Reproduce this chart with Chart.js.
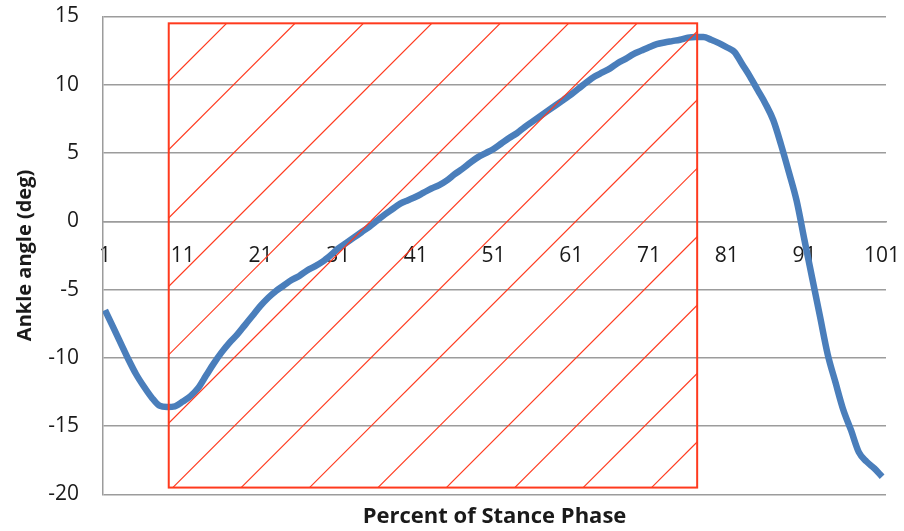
<!DOCTYPE html>
<html>
<head>
<meta charset="utf-8">
<script src="https://cdn.jsdelivr.net/npm/chart.js@4"></script>
<style>
  html, body { margin: 0; padding: 0; background: #fff; }
  #wrap { width: 904px; height: 531px; }
</style>
</head>
<body>
<div id="wrap"><canvas id="ankle"></canvas></div>
<script>
// percent of stance phase, 1..101
const stancePercent = Array.from({ length: 101 }, (_, i) => i + 1);

// ankle angle (deg)
const ankleAngle = [
	-6.5, -7.7, -8.9, -10.1, -11.2, -12.1, -12.9, -13.5, -13.6, -13.55,
	-13.2, -12.8, -12.2, -11.3, -10.4, -9.6, -8.9, -8.3, -7.6, -6.9,
	-6.2, -5.6, -5.1, -4.7, -4.3, -4.0, -3.6, -3.3, -2.95, -2.5,
	-2.0, -1.6, -1.2, -0.8, -0.4, 0.05, 0.5, 0.9, 1.3, 1.55,
	1.8, 2.1, 2.4, 2.65, 3.0, 3.45, 3.85, 4.3, 4.7, 5.0,
	5.3, 5.7, 6.1, 6.45, 6.9, 7.3, 7.7, 8.1, 8.5, 8.9,
	9.3, 9.75, 10.2, 10.6, 10.9, 11.2, 11.6, 11.9, 12.25, 12.5,
	12.75, 12.97, 13.1, 13.2, 13.3, 13.45, 13.5, 13.5, 13.3, 13.05,
	12.75, 12.4, 11.5, 10.6, 9.6, 8.6, 7.4, 5.6, 3.6, 1.5,
	-1.35, -4.15, -6.95, -9.75, -11.8, -13.8, -15.3, -16.9, -17.6, -18.1,
	-18.7
];

const xTickLabels = [1, 11, 21, 31, 41, 51, 61, 71, 81, 91, 101];
const yTickLabels = [-20, -15, -10, -5, 0, 5, 10, 15];

// hatched box: percent range and angle range
const shadeX = [9.2, 77.2];
const shadeY = [-19.5, 14.5];

const GRID = '#9c9c9c';
const RED = '#ff3a1e';
const TEXT = '#1a1a1a';

// red rectangle with diagonal hatch
const hatchBox = {
	id: 'hatchBox',
	afterDatasetsDraw(chart) {
		const { ctx, scales: { x, y } } = chart;
		const left = x.getPixelForValue(shadeX[0]);
		const right = x.getPixelForValue(shadeX[1]);
		const top = y.getPixelForValue(shadeY[1]);
		const bottom = y.getPixelForValue(shadeY[0]);
		const step = 68.4;

		ctx.save();
		ctx.beginPath();
		ctx.rect(left, top, right - left, bottom - top);
		ctx.clip();
		ctx.strokeStyle = RED;
		ctx.lineWidth = 1.2;
		const c0 = left + bottom + 4;
		for (let c = c0 - step * 20; c <= right + bottom; c += step) {
			if (c < left + top) continue;
			ctx.beginPath();
			ctx.moveTo(c - bottom, bottom);
			ctx.lineTo(c - top, top);
			ctx.stroke();
		}
		ctx.restore();

		ctx.save();
		ctx.strokeStyle = RED;
		ctx.lineWidth = 2;
		ctx.strokeRect(left, top, right - left, bottom - top);
		ctx.restore();
	}
};

const noPad = scale => {
	scale.paddingLeft = 0;
	scale.paddingRight = 0;
	scale.paddingTop = 0;
	scale.paddingBottom = 0;
};

const data_ankle = {
	datasets: [
		{
			label: 'Ankle angle',
			data: stancePercent.map((p, i) => ({ x: p, y: ankleAngle[i] })),
			borderColor: '#4a7ebb',
			borderWidth: 6.5,
			pointRadius: 0,
			cubicInterpolationMode: 'monotone',
			fill: false,
		}
	]
};

const config_ankle = {
	type: 'line',
	data: data_ankle,
	options: {
		responsive: true,
		maintainAspectRatio: false,
		animation: false,
		layout: {
			padding: { left: 0, right: 18, top: 16.5, bottom: 1.4 }
		},
		plugins: {
			legend: { display: false },
			tooltip: { enabled: false },
			title: {
				display: true,
				fullSize: false,
				position: 'bottom',
				text: 'Percent of Stance Phase',
				color: TEXT,
				font: { family: 'Open Sans', size: 22, weight: 'bold', lineHeight: 1.2 },
				padding: { top: 8.8, bottom: 0 }
			}
		},
		scales: {
			x: {
				type: 'linear',
				min: 0.74,
				max: 101.5,
				position: { y: 0 },
				afterBuildTicks: scale => {
					scale.ticks = xTickLabels.map(v => ({ value: v }));
				},
				afterFit: noPad,
				grid: { display: false, drawTicks: false },
				border: { display: true, color: GRID, width: 1.5 },
				ticks: {
					autoSkip: false,
					maxRotation: 0,
					padding: 22,
					color: TEXT,
					font: { family: 'Open Sans', size: 21 }
				}
			},
			y: {
				min: yTickLabels[0],
				max: yTickLabels[yTickLabels.length - 1],
				afterFit: scale => { scale.width = 103; noPad(scale); },
				afterBuildTicks: scale => {
					scale.ticks = yTickLabels.map(v => ({ value: v }));
				},
				grid: { color: GRID, lineWidth: 1.5, drawTicks: false },
				border: { display: true, color: GRID, width: 1.5 },
				ticks: {
					padding: 24,
					color: TEXT,
					font: { family: 'Open Sans', size: 21 }
				},
				title: {
					display: true,
					text: 'Ankle angle (deg)',
					color: TEXT,
					font: { family: 'Open Sans', size: 20, weight: 'bold', lineHeight: 1.2 },
					padding: { top: 13, bottom: 0 }
				}
			}
		}
	},
	plugins: [hatchBox]
};

const ankle = new Chart(document.getElementById('ankle'), config_ankle);
</script>
</body>
</html>
